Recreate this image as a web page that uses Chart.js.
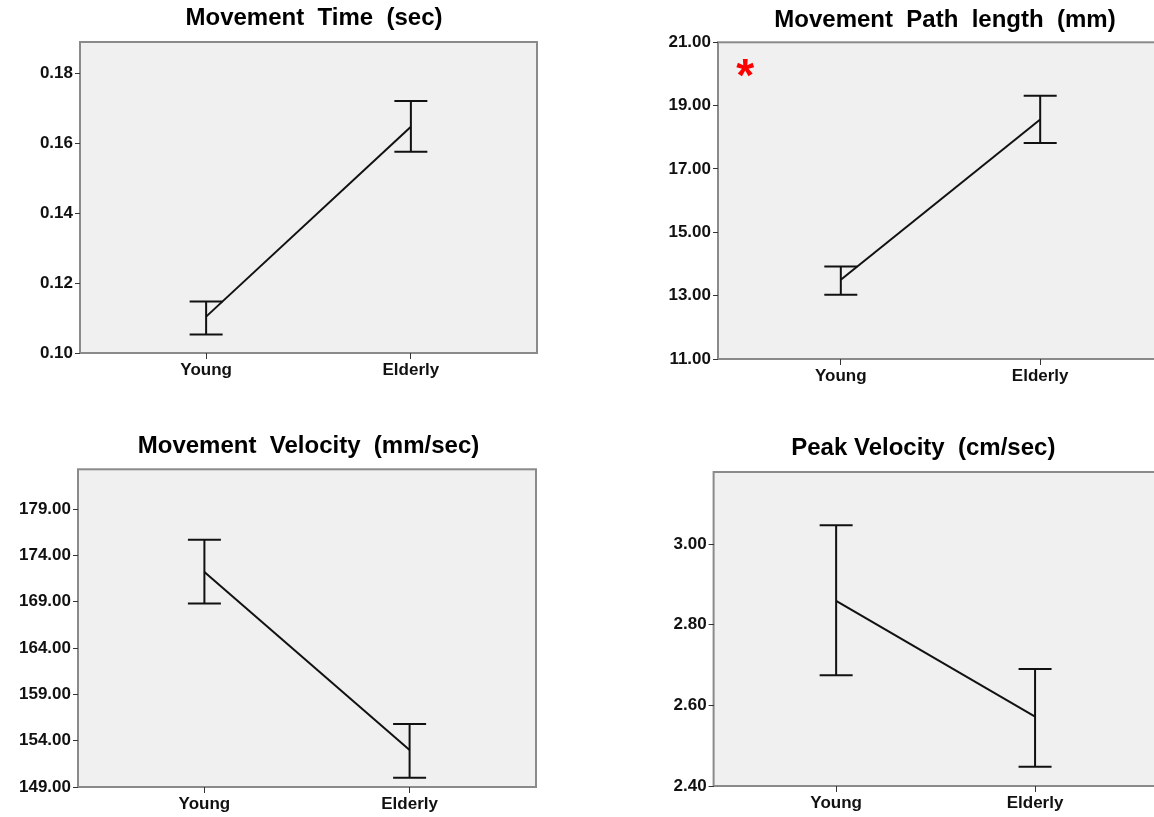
<!DOCTYPE html>
<html>
<head>
<meta charset="utf-8">
<script src="https://cdn.jsdelivr.net/npm/chart.js@4.4.1/dist/chart.umd.min.js"></script>
<style>
html,body{margin:0;padding:0;background:#fff;overflow:hidden;}
#wrap{position:relative;width:1154px;height:817px;overflow:hidden;background:#fff;}
#wrap canvas{position:absolute;}
</style>
</head>
<body>
<div id="wrap">
<canvas id="c1"></canvas>
<canvas id="c2"></canvas>
<canvas id="c3"></canvas>
<canvas id="c4"></canvas>
</div>
<script>
// ---- data ----
const categories = ['Young', 'Elderly'];

const timeMean = [0.1104, 0.1647];
const timeLow  = [0.1053, 0.1575];
const timeHigh = [0.1147, 0.1720];
const timeTicks = [0.10, 0.12, 0.14, 0.16, 0.18];

const pathMean = [13.50, 18.56];
const pathLow  = [13.03, 17.82];
const pathHigh = [13.92, 19.31];
const pathTicks = [11, 13, 15, 17, 19, 21];

const velMean = [172.2, 153.0];
const velLow  = [168.8, 150.0];
const velHigh = [175.7, 155.8];
const velTicks = [149, 154, 159, 164, 169, 174, 179];

const peakMean = [2.859, 2.572];
const peakLow  = [2.675, 2.448];
const peakHigh = [3.047, 2.690];
const peakTicks = [2.40, 2.60, 2.80, 3.00];

// ---- styling / layout ----
const FONT = "'Liberation Sans', Arial, Helvetica, sans-serif";
const TITLE_SIZE = 24;
const TITLE_LH = 1.2;
const TICK_SIZE = 17;
const X_MIN = -0.616, X_MAX = 1.616;
const CAP_HALF = 16.5;

function makePanel(id, cfg) {
  const cv = document.getElementById(id);
  const CL = cfg.canvas.left, CT = cfg.canvas.top;
  const a = cfg.box.L - CL, b = cfg.box.R - CL, c = cfg.title.cx - CL;
  const WyMin = 66;
  const Wy2 = Math.max(0, 2 * c - b - a + WyMin);
  const pL = 2 * c - b - Wy2;
  const Wy = a - pL;
  const W = Math.round(b + Wy2);
  const lh = TITLE_SIZE * TITLE_LH;
  const tT = cfg.title.cy - CT - lh / 2;
  const tB = cfg.box.T - CT - tT - lh;
  const Hx = 40;
  const H = Math.round(cfg.box.B - CT + Hx);

  cv.width = W; cv.height = H;
  cv.style.left = CL + 'px'; cv.style.top = CT + 'px';
  cv.style.width = W + 'px'; cv.style.height = H + 'px';

  const decor = {
    id: 'decor_' + id,
    beforeDraw(chart) {
      const {ctx, chartArea: ca} = chart;
      ctx.save();
      ctx.fillStyle = '#f0f0f0';
      ctx.fillRect(ca.left, ca.top, ca.right - ca.left, ca.bottom - ca.top);
      ctx.strokeStyle = '#8a8a8a';
      ctx.lineWidth = 2;
      ctx.strokeRect(ca.left, ca.top, ca.right - ca.left, ca.bottom - ca.top);
      ctx.restore();
    },
    afterDatasetsDraw(chart) {
      const ctx = chart.ctx;
      const xs = chart.scales.x, ys = chart.scales.y;
      ctx.save();
      ctx.strokeStyle = '#111';
      ctx.lineWidth = 2;
      chart.data.datasets.forEach(ds => {
        ds.errLow.forEach((lo, i) => {
          const px = xs.getPixelForValue(i);
          const pl = ys.getPixelForValue(lo);
          const ph = ys.getPixelForValue(ds.errHigh[i]);
          ctx.beginPath();
          ctx.moveTo(px, pl); ctx.lineTo(px, ph);
          ctx.moveTo(px - CAP_HALF, pl); ctx.lineTo(px + CAP_HALF, pl);
          ctx.moveTo(px - CAP_HALF, ph); ctx.lineTo(px + CAP_HALF, ph);
          ctx.stroke();
        });
      });
      if (cfg.marker) {
        const mx = xs.getPixelForValue(cfg.marker.x);
        const my = ys.getPixelForValue(cfg.marker.y);
        ctx.fillStyle = '#ff0000';
        ctx.font = 'bold 46px ' + FONT;
        ctx.textAlign = 'center';
        ctx.textBaseline = 'alphabetic';
        ctx.fillText(cfg.marker.text, mx, my + 46 * 0.56);
      }
      ctx.restore();
    }
  };

  return new Chart(cv, {
    type: 'line',
    data: {
      datasets: [{
        data: categories.map((cat, i) => ({x: i, y: cfg.mean[i]})),
        errLow: cfg.low,
        errHigh: cfg.high,
        borderColor: '#111',
        borderWidth: 2,
        pointRadius: 0,
        fill: false,
        tension: 0
      }]
    },
    options: {
      responsive: false,
      animation: false,
      devicePixelRatio: 1,
      events: [],
      layout: {padding: {left: pL, right: 0, top: 0, bottom: 0}},
      plugins: {
        legend: {display: false},
        tooltip: {enabled: false},
        title: {
          display: true,
          text: cfg.title.text,
          color: '#000',
          fullSize: true,
          font: {family: FONT, size: TITLE_SIZE, weight: 'bold', lineHeight: TITLE_LH},
          padding: {top: tT, bottom: tB}
        }
      },
      scales: {
        x: {
          type: 'linear',
          min: X_MIN, max: X_MAX,
          position: 'bottom',
          afterBuildTicks: s => { s.ticks = categories.map((cat, i) => ({value: i})); },
          afterFit: s => { s.height = Hx; },
          grid: {display: true, drawOnChartArea: false, drawTicks: true, tickLength: 6, color: '#333', lineWidth: 1},
          border: {display: false},
          ticks: {
            autoSkip: false, maxRotation: 0, padding: 1,
            color: '#111',
            font: {family: FONT, size: TICK_SIZE, weight: 'bold'},
            callback: v => categories[v]
          }
        },
        y: {
          type: 'linear',
          position: 'left',
          min: cfg.yMin, max: cfg.yMax,
          afterBuildTicks: s => { s.ticks = cfg.yTicks.map(v => ({value: v})); },
          afterFit: s => { s.width = Wy; },
          grid: {display: true, drawOnChartArea: false, drawTicks: true, tickLength: 5, color: '#333', lineWidth: 1},
          border: {display: false},
          ticks: {
            padding: 2,
            color: '#111',
            font: {family: FONT, size: TICK_SIZE, weight: 'bold'},
            callback: v => Number(v).toFixed(2)
          }
        },
        y2: {
          type: 'linear',
          position: 'right',
          display: Wy2 > 0,
          afterFit: s => { s.width = Wy2; },
          grid: {display: false},
          border: {display: false},
          ticks: {display: false}
        }
      }
    },
    plugins: [decor]
  });
}

makePanel('c1', {
  canvas: {left: 0, top: 0},
  box: {L: 80, R: 537, T: 42, B: 353},
  title: {text: 'Movement  Time  (sec)', cx: 314, cy: 18},
  mean: timeMean, low: timeLow, high: timeHigh,
  yTicks: timeTicks, yMin: 0.10, yMax: 0.1889
});

makePanel('c2', {
  canvas: {left: 580, top: 0},
  box: {L: 718, R: 1163, T: 42.3, B: 359.3},
  title: {text: 'Movement  Path  length  (mm)', cx: 945, cy: 20.5},
  mean: pathMean, low: pathLow, high: pathHigh,
  yTicks: pathTicks, yMin: 11, yMax: 21,
  marker: {x: -0.48, y: 20.26, text: '*'}
});

makePanel('c3', {
  canvas: {left: 0, top: 410},
  box: {L: 78, R: 536, T: 469.3, B: 787.3},
  title: {text: 'Movement  Velocity  (mm/sec)', cx: 308.5, cy: 446.7},
  mean: velMean, low: velLow, high: velHigh,
  yTicks: velTicks, yMin: 149, yMax: 183.3
});

makePanel('c4', {
  canvas: {left: 580, top: 410},
  box: {L: 713.6, R: 1158, T: 472, B: 786},
  title: {text: 'Peak Velocity  (cm/sec)', cx: 923.5, cy: 448.3},
  mean: peakMean, low: peakLow, high: peakHigh,
  yTicks: peakTicks, yMin: 2.40, yMax: 3.179
});
</script>
</body>
</html>
